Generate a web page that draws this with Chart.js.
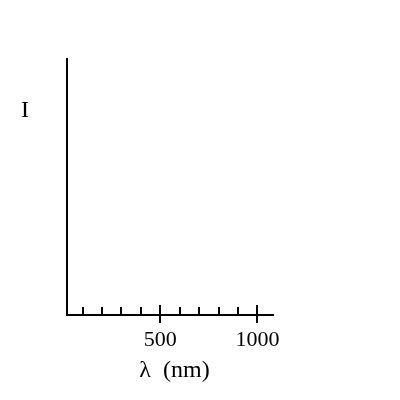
<!DOCTYPE html>
<html>
<head>
<meta charset="utf-8">
<script src="https://cdn.jsdelivr.net/npm/chart.js@4.4.0/dist/chart.umd.min.js"></script>
<style>
html,body{margin:0;padding:0;background:#fff;}
#wrap{width:400px;height:400px;}
</style>
</head>
<body>
<div id="wrap"><canvas id="c" width="400" height="400"></canvas></div>
<script>
const xRange = [20, 1080];
const yRange = [0, 1];
const minorTicks = [100, 200, 300, 400, 600, 700, 800, 900];
const majorTicks = [500, 1000];
const xTitle = "λ  (nm)";
const yTitle = "I";
const FONT = "'Liberation Serif', 'Times New Roman', serif";

const tickPlugin = {
  id: 'handTicks',
  afterDraw(chart) {
    const ctx = chart.ctx;
    const xs = chart.scales.x;
    const y0 = chart.chartArea.bottom;
    ctx.save();
    ctx.strokeStyle = '#000';
    ctx.lineWidth = 2;
    ctx.beginPath();
    minorTicks.forEach(v => {
      const px = Math.round(xs.getPixelForValue(v));
      ctx.moveTo(px, y0 - 8);
      ctx.lineTo(px, y0);
    });
    majorTicks.forEach(v => {
      const px = Math.round(xs.getPixelForValue(v));
      ctx.moveTo(px, y0 - 10);
      ctx.lineTo(px, y0 + 8);
    });
    ctx.stroke();
    ctx.fillStyle = '#000';
    ctx.font = "24px " + FONT;
    ctx.textAlign = 'center';
    ctx.textBaseline = 'alphabetic';
    ctx.fillText(yTitle, 25, 117);
    ctx.fillText(xTitle, (chart.chartArea.left + chart.chartArea.right) / 2 + 4.5, 377);
    ctx.restore();
  }
};

new Chart(document.getElementById('c'), {
  type: 'scatter',
  data: { datasets: [] },
  options: {
    responsive: false,
    animation: false,
    devicePixelRatio: 1,
    layout: { padding: { left: 67, top: 59, right: 127, bottom: 0 } },
    plugins: { legend: { display: false }, tooltip: { enabled: false }, title: { display: false } },
    scales: {
      x: {
        type: 'linear',
        display: true,
        min: xRange[0],
        max: xRange[1],
        afterBuildTicks(scale) { scale.ticks = majorTicks.map(v => ({ value: v })); },
        afterFit(scale) { scale.height = 85; },
        ticks: {
          color: '#000',
          font: { family: FONT, size: 22 },
          padding: 12,
          maxRotation: 0,
          autoSkip: false,
          callback: v => String(v)
        },
        grid: { display: true, drawOnChartArea: false, drawTicks: false },
        border: { display: true, color: '#000', width: 2 }
      },
      y: {
        type: 'linear',
        display: true,
        min: yRange[0],
        max: yRange[1],
        afterFit(scale) { scale.width = 0; },
        ticks: { display: false },
        grid: { display: false, drawOnChartArea: false, drawTicks: false },
        border: { display: true, color: '#000', width: 2 }
      }
    }
  },
  plugins: [tickPlugin]
});
</script>
</body>
</html>
